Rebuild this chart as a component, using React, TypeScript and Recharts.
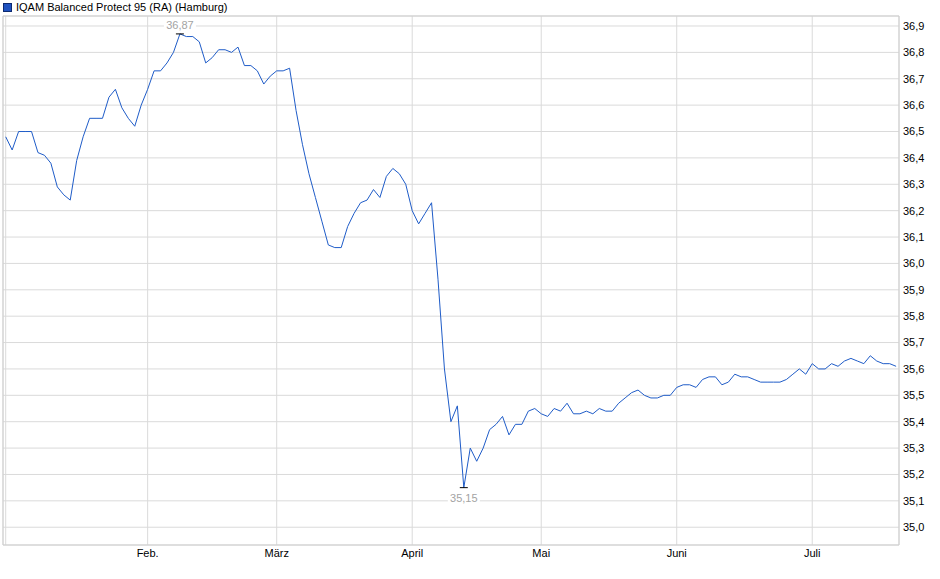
import { LineChart, Line, XAxis, YAxis, CartesianGrid, ReferenceArea } from 'recharts';

// one closing price per trading day (Jan - mid July)
const prices = [
  36.48, 36.43, 36.5, 36.5, 36.5, 36.42, 36.41, 36.38, 36.29, 36.26,
  36.24, 36.39, 36.48, 36.55, 36.55, 36.55, 36.63, 36.66, 36.59, 36.55,
  36.52, 36.6, 36.66, 36.73, 36.73, 36.76, 36.8, 36.87, 36.86, 36.86,
  36.84, 36.76, 36.78, 36.81, 36.81, 36.8, 36.82, 36.75, 36.75, 36.73,
  36.68, 36.71, 36.73, 36.73, 36.74, 36.58, 36.45, 36.34, 36.25, 36.16,
  36.07, 36.06, 36.06, 36.14, 36.19, 36.23, 36.24, 36.28, 36.25, 36.33,
  36.36, 36.34, 36.3, 36.2, 36.15, 36.19, 36.23, 35.94, 35.6, 35.4,
  35.46, 35.15, 35.3, 35.25, 35.3, 35.37, 35.39, 35.42, 35.35, 35.39,
  35.39, 35.44, 35.45, 35.43, 35.42, 35.45, 35.44, 35.47, 35.43, 35.43,
  35.44, 35.43, 35.45, 35.44, 35.44, 35.47, 35.49, 35.51, 35.52, 35.5,
  35.49, 35.49, 35.5, 35.5, 35.53, 35.54, 35.54, 35.53, 35.56, 35.57,
  35.57, 35.54, 35.55, 35.58, 35.57, 35.57, 35.56, 35.55, 35.55, 35.55,
  35.55, 35.56, 35.58, 35.6, 35.58, 35.62, 35.6, 35.6, 35.62, 35.61,
  35.63, 35.64, 35.63, 35.62, 35.65, 35.63, 35.62, 35.62, 35.61,
];

// index of the first trading day of each month
const monthStarts = [0, 22, 42, 63, 83, 104, 125];
const monthLabels = ['', 'Feb.', 'März', 'April', 'Mai', 'Juni', 'Juli'];

const priceTicks = [
  35.0, 35.1, 35.2, 35.3, 35.4, 35.5, 35.6, 35.7, 35.8, 35.9,
  36.0, 36.1, 36.2, 36.3, 36.4, 36.5, 36.6, 36.7, 36.8, 36.9,
];

const data = prices.map((v, i) => ({ i, v }));

const maxIdx = prices.indexOf(Math.max(...prices));
const minIdx = prices.indexOf(Math.min(...prices));

const X_DOMAIN: [number, number] = [-0.42, 138.45];
const Y_DOMAIN: [number, number] = [34.9326, 36.9379];

const fmt = (v: number, d: number) => v.toFixed(d).replace('.', ',');

function ExtremeDot(props: any) {
  const { cx, cy, index, value } = props;
  if (index !== maxIdx && index !== minIdx) return <g key={`d${index}`} />;
  const isMax = index === maxIdx;
  const ty = isMax ? cy - 5 : cy + 14;
  return (
    <g key={`d${index}`}>
      <line x1={cx - 4} x2={cx + 4} y1={cy} y2={cy} stroke="#000" strokeWidth={1} />
      <rect x={cx - 16} y={ty - 10} width={32} height={12} fill="#fff" />
      <text x={cx} y={ty} textAnchor="middle" fontSize={11} fill="#a3a3a3">
        {fmt(value, 2)}
      </text>
    </g>
  );
}

export default function App() {
  return (
    <div
      style={{
        position: 'absolute',
        left: 0,
        top: 0,
        width: 940,
        height: 579,
        background: '#fff',
        fontFamily: '"Liberation Sans", Arial, sans-serif',
      }}
    >
      <div style={{ position: 'absolute', left: 3, top: 0, fontSize: 11, lineHeight: '14px', color: '#000', display: 'flex', alignItems: 'center' }}>
        <span style={{ display: 'inline-block', width: 7, height: 7, background: '#1f52c0', border: '1px solid #0d2a70', marginRight: 4 }} />
        IQAM Balanced Protect 95 (RA) (Hamburg)
      </div>
      <LineChart width={940} height={579} data={data} margin={{ top: 16, right: 0, bottom: 0, left: 3 }}>
        <CartesianGrid stroke="#dadada" />
        <XAxis
          type="number"
          dataKey="i"
          domain={X_DOMAIN}
          allowDataOverflow
          ticks={monthStarts}
          interval={0}
          tickFormatter={(t: number) => monthLabels[monthStarts.indexOf(t)] ?? ''}
          height={34}
          tickSize={0}
          tickMargin={4}
          axisLine={false}
          tick={{ fontSize: 11, fill: '#000' }}
        />
        <YAxis
          orientation="right"
          domain={Y_DOMAIN}
          allowDataOverflow
          ticks={priceTicks}
          interval={0}
          tickFormatter={(t: number) => fmt(t, 1)}
          width={41}
          tickSize={0}
          tickMargin={4}
          axisLine={false}
          tick={{ fontSize: 11, fill: '#000', textAnchor: 'start' }}
        />
        <ReferenceArea
          x1={X_DOMAIN[0]}
          x2={X_DOMAIN[1]}
          y1={Y_DOMAIN[0]}
          y2={Y_DOMAIN[1]}
          fill="none"
          stroke="#cfcfcf"
          fillOpacity={0}
        />
        <Line
          type="linear"
          dataKey="v"
          stroke="#1f5cc8"
          strokeWidth={1}
          dot={ExtremeDot}
          activeDot={false}
          isAnimationActive={false}
        />
      </LineChart>
    </div>
  );
}
